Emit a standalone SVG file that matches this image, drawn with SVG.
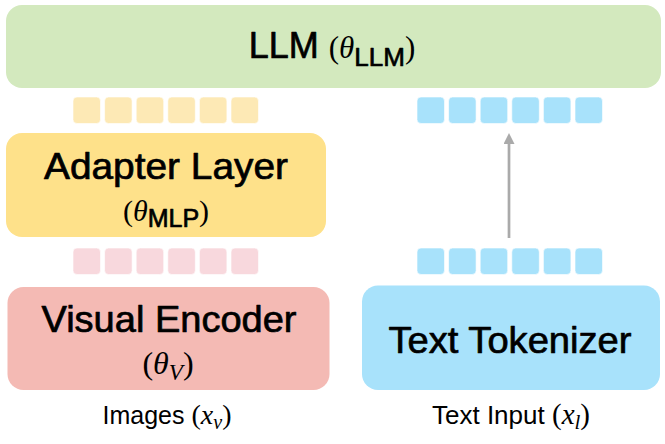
<svg xmlns="http://www.w3.org/2000/svg" width="665" height="444" viewBox="0 0 665 444">
<style>
.sans{font-family:"Liberation Sans",Arial,sans-serif;fill:#000;text-anchor:middle}
.heavy{stroke:#000;stroke-width:0.7;stroke-linejoin:round}
.math{font-family:"Liberation Serif","Times New Roman",serif;font-style:italic;stroke:none}
.up{font-style:normal}
.tok{stroke:#fff;stroke-opacity:0.6;stroke-width:1}
.y{fill:#fde9b5}.b{fill:#a8e2fb}.p{fill:#f8d8dd}
</style>
<defs>
<marker id="ah" viewBox="0 0 11 11" refX="0" refY="5.5" markerWidth="11" markerHeight="11" markerUnits="userSpaceOnUse" orient="auto">
<path d="M0,0 L11,5.5 L0,11 z" fill="#aaaaaa"/>
</marker>
<rect id="t" width="27.5" height="26.5" rx="4"/>
</defs>
<rect width="665" height="444" fill="#fff"/>

<g id="llm">
<rect x="6" y="5" width="655" height="83" rx="16" fill="#d3e9be"/>
<text class="sans heavy" x="332" y="58" font-size="36">LLM <tspan class="math up" font-size="31">(</tspan><tspan class="math" font-size="31">θ</tspan><tspan font-size="26" dy="8">LLM</tspan><tspan class="math up" font-size="31" dy="-8">)</tspan></text>
</g>

<g id="adapter-tokens">
<use href="#t" class="tok y" x="73" y="97"/><use href="#t" class="tok y" x="104.6" y="97"/><use href="#t" class="tok y" x="136.2" y="97"/><use href="#t" class="tok y" x="167.8" y="97"/><use href="#t" class="tok y" x="199.4" y="97"/><use href="#t" class="tok y" x="231" y="97"/>
</g>
<g id="text-tokens-top">
<use href="#t" class="tok b" x="417" y="97"/><use href="#t" class="tok b" x="448.6" y="97"/><use href="#t" class="tok b" x="480.2" y="97"/><use href="#t" class="tok b" x="511.8" y="97"/><use href="#t" class="tok b" x="543.4" y="97"/><use href="#t" class="tok b" x="575" y="97"/>
</g>

<g id="adapter">
<rect x="6" y="133" width="320" height="104" rx="16" fill="#fee18a"/>
<text class="sans heavy" x="166" y="179" font-size="37" textLength="244" lengthAdjust="spacingAndGlyphs">Adapter Layer</text>
<text class="sans heavy" x="166" y="221" font-size="30"><tspan class="math up">(</tspan><tspan class="math">θ</tspan><tspan font-size="25" dy="6">MLP</tspan><tspan class="math up" dy="-6">)</tspan></text>
</g>

<g id="visual-tokens">
<use href="#t" class="tok p" x="73" y="248"/><use href="#t" class="tok p" x="104.6" y="248"/><use href="#t" class="tok p" x="136.2" y="248"/><use href="#t" class="tok p" x="167.8" y="248"/><use href="#t" class="tok p" x="199.4" y="248"/><use href="#t" class="tok p" x="231" y="248"/>
</g>
<g id="text-tokens-bottom">
<use href="#t" class="tok b" x="417" y="248"/><use href="#t" class="tok b" x="448.6" y="248"/><use href="#t" class="tok b" x="480.2" y="248"/><use href="#t" class="tok b" x="511.8" y="248"/><use href="#t" class="tok b" x="543.4" y="248"/><use href="#t" class="tok b" x="575" y="248"/>
</g>

<g id="visual-encoder">
<rect x="7.5" y="287" width="322" height="103" rx="16" fill="#f4bab4"/>
<text class="sans heavy" x="169" y="332" font-size="37" textLength="255" lengthAdjust="spacingAndGlyphs">Visual Encoder</text>
<text class="sans" x="168" y="374" font-size="32"><tspan class="math up">(</tspan><tspan class="math">θ</tspan><tspan class="math" font-size="23" dy="6">V</tspan><tspan class="math up" dy="-6">)</tspan></text>
</g>

<g id="text-tokenizer">
<rect x="362" y="285.5" width="298" height="104.5" rx="16" fill="#a8e2fb"/>
<text class="sans heavy" x="510" y="353" font-size="37" textLength="243" lengthAdjust="spacingAndGlyphs">Text Tokenizer</text>
</g>

<g id="images-label">
<text class="sans" x="167" y="424" font-size="25">Images <tspan class="math up" font-size="28">(</tspan><tspan class="math" font-size="28">x</tspan><tspan class="math" font-size="20" dy="5">v</tspan><tspan class="math up" font-size="28" dy="-5">)</tspan></text>
</g>
<g id="text-input-label">
<text class="sans" x="511" y="424" font-size="26">Text Input <tspan class="math up" font-size="29">(</tspan><tspan class="math" font-size="29">x</tspan><tspan class="math" font-size="21" dy="5">l</tspan><tspan class="math up" font-size="29" dy="-5">)</tspan></text>
</g>

<g id="connectors">
<line x1="509" y1="238" x2="509" y2="144" stroke="#aaaaaa" stroke-width="2.7" marker-end="url(#ah)"/>
</g>
</svg>
